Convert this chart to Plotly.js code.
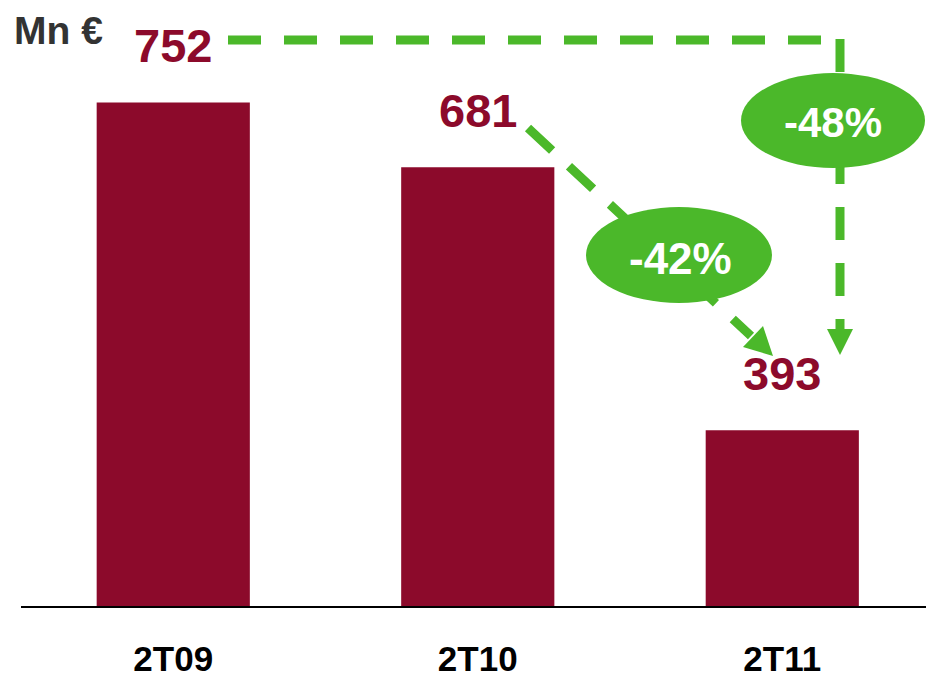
<!DOCTYPE html>
<html>
<head>
<meta charset="utf-8">
<script src="https://cdn.plot.ly/plotly-3.0.1.min.js"></script>
<style>html,body{margin:0;padding:0;background:#fff;}#chart{width:926px;height:679px;}</style>
</head>
<body>
<div id="chart"></div>
<script>
// Data
const categories = ["2T09", "2T10", "2T11"];
const values = [752, 681, 393];
const valueLabels = ["752", "681", "393"];
const changeLabels = ["-42%", "-48%"];
const unitLabel = "Mn €";

// Styles
const BAR = "#8c0a2b";
const GREEN = "#4bb82a";
const FONT = "Liberation Sans, Arial, sans-serif";

// Plot box in pixels
const L = 21, R = 926, T = 20, B = 606;
const px = x => (x - L) / (R - L);
const py = y => (B - y) / (B - T);
const pathOf = pts => "M " + pts.map(p => px(p[0]) + " " + py(p[1])).join(" L ") + " Z";

const dash = "33px,23px";
const lw = 9;

const shapes = [
  // horizontal dashed line from 752 label
  {type: "line", xref: "paper", yref: "paper", x0: px(228), y0: py(40), x1: px(821), y1: py(40),
   line: {color: GREEN, width: lw, dash: dash}, layer: "above"},
  // vertical dashed line down to 2T11
  {type: "line", xref: "paper", yref: "paper", x0: px(840), y0: py(39), x1: px(840), y1: py(297),
   line: {color: GREEN, width: lw, dash: dash}, layer: "above"},
  // vertical arrow (stem + head)
  {type: "path", xref: "paper", yref: "paper",
   path: pathOf([[835.5, 319], [844.5, 319], [844.5, 329], [853, 329], [840, 355], [827, 329], [835.5, 329]]),
   fillcolor: GREEN, line: {color: GREEN, width: 0}, layer: "above"},
  // diagonal dashed line from 681 label
  {type: "line", xref: "paper", yref: "paper", x0: px(528), y0: py(128), x1: px(751), y1: py(336),
   line: {color: GREEN, width: lw, dash: dash}, layer: "above"},
  // diagonal arrowhead
  {type: "path", xref: "paper", yref: "paper",
   path: pathOf([[743, 347], [763, 326], [773, 356]]),
   fillcolor: GREEN, line: {color: GREEN, width: 0}, layer: "above"},
  // ellipses
  {type: "circle", xref: "paper", yref: "paper", x0: px(586), x1: px(772), y0: py(207), y1: py(303),
   fillcolor: GREEN, line: {color: GREEN, width: 0}, layer: "above"},
  {type: "circle", xref: "paper", yref: "paper", x0: px(741), x1: px(925), y0: py(73), y1: py(168),
   fillcolor: GREEN, line: {color: GREEN, width: 0}, layer: "above"}
];

const annotations = [];
categories.forEach((c, i) => {
  annotations.push({x: c, y: values[i], xref: "x", yref: "y", text: valueLabels[i], showarrow: false,
    yshift: 57, yanchor: "middle", xanchor: "center",
    font: {family: FONT, size: 47, color: BAR, weight: "bold"}});
});
annotations.push({xref: "paper", yref: "paper", x: px(680), y: py(258), text: changeLabels[0], showarrow: false,
  xanchor: "center", yanchor: "middle", font: {family: FONT, size: 44, color: "#ffffff", weight: "bold"}});
annotations.push({xref: "paper", yref: "paper", x: px(833), y: py(122), text: changeLabels[1], showarrow: false,
  xanchor: "center", yanchor: "middle", font: {family: FONT, size: 42, color: "#ffffff", weight: "bold"}});
annotations.push({xref: "paper", yref: "paper", x: px(12), y: py(31), text: unitLabel, showarrow: false,
  xanchor: "left", yanchor: "middle", font: {family: FONT, size: 39, color: "#333333", weight: "bold"}});

const trace = {
  type: "bar", x: categories, y: values,
  marker: {color: BAR, line: {width: 0}},
  hoverinfo: "none"
};

const layout = {
  width: 926, height: 679,
  margin: {l: L, r: 926 - R, t: T, b: 679 - B, pad: 0},
  paper_bgcolor: "#ffffff", plot_bgcolor: "#ffffff",
  showlegend: false,
  bargap: 0.497,
  xaxis: {
    type: "category", range: [-0.5, 2.472], showgrid: false, zeroline: false,
    showline: true, linecolor: "#000000", linewidth: 1.5, ticks: "",
    ticklabelstandoff: 21,
    tickfont: {family: FONT, size: 35, color: "#000000", weight: "bold"}
  },
  yaxis: {
    range: [200.3, 842.5], showgrid: false, zeroline: false, showline: false,
    showticklabels: false, ticks: ""
  },
  shapes: shapes,
  annotations: annotations,
  font: {family: FONT}
};

Plotly.newPlot("chart", [trace], layout, {displayModeBar: false, staticPlot: true});
</script>
</body>
</html>
